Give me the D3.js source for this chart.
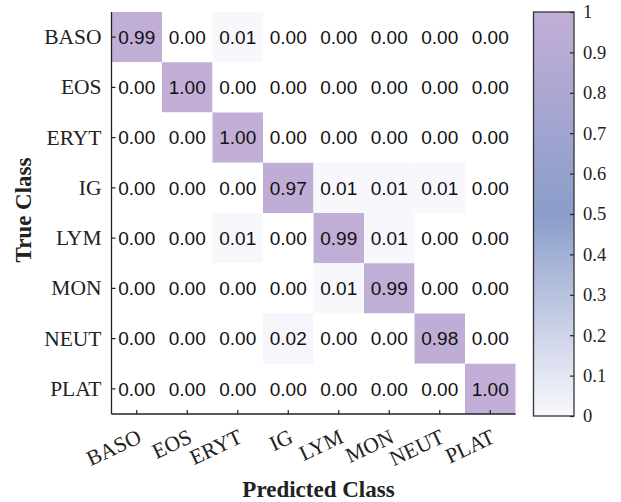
<!DOCTYPE html>
<html>
<head>
<meta charset="utf-8">
<script src="https://cdn.jsdelivr.net/npm/d3@7"></script>
<style>
  body { margin: 0; background: #fff; }
</style>
</head>
<body>
<div id="chart"></div>
<script>
// class labels
var classes = ['BASO', 'EOS', 'ERYT', 'IG', 'LYM', 'MON', 'NEUT', 'PLAT']
// rows = true class, columns = predicted class
var matrix = [
  [0.99, 0.00, 0.01, 0.00, 0.00, 0.00, 0.00, 0.00],
  [0.00, 1.00, 0.00, 0.00, 0.00, 0.00, 0.00, 0.00],
  [0.00, 0.00, 1.00, 0.00, 0.00, 0.00, 0.00, 0.00],
  [0.00, 0.00, 0.00, 0.97, 0.01, 0.01, 0.01, 0.00],
  [0.00, 0.00, 0.01, 0.00, 0.99, 0.01, 0.00, 0.00],
  [0.00, 0.00, 0.00, 0.00, 0.01, 0.99, 0.00, 0.00],
  [0.00, 0.00, 0.00, 0.02, 0.00, 0.00, 0.98, 0.00],
  [0.00, 0.00, 0.00, 0.00, 0.00, 0.00, 0.00, 1.00]
]
var colorTicks = [0, 0.1, 0.2, 0.3, 0.4, 0.5, 0.6, 0.7, 0.8, 0.9, 1]

var W = 621
var H = 502
var plot = { left: 111.5, top: 12, right: 515.5, bottom: 414 }
var bar = { left: 533.5, right: 574, top: 12, bottom: 416 }
var serif = '"Liberation Serif", "Times New Roman", serif'
var sans = '"Liberation Sans", Arial, Helvetica, sans-serif'

var svg = d3.select('#chart').append('svg')
  .attr('width', W)
  .attr('height', H)

var x = d3.scaleBand().domain(classes).range([plot.left, plot.right])
var y = d3.scaleBand().domain(classes).range([plot.top, plot.bottom])

var color = d3.scaleLinear()
  .domain([0, 0.25, 0.5, 0.75, 1])
  .range(['#f9f9fd', '#c3cbe3', '#8a9dca', '#a6a6d1', '#c2aed6'])
  .clamp(true)

var cells = []
matrix.forEach((row, i) => {
  row.forEach((v, j) => {
    cells.push({ t: classes[i], p: classes[j], v: v })
  })
})

// cells
svg.append('g')
  .selectAll('rect')
  .data(cells)
  .enter()
  .append('rect')
  .attr('x', d => x(d.p))
  .attr('y', d => y(d.t))
  .attr('width', x.bandwidth())
  .attr('height', y.bandwidth())
  .attr('fill', d => d.v > 0 ? color(d.v) : '#ffffff')

svg.append('g')
  .selectAll('text')
  .data(cells)
  .enter()
  .append('text')
  .attr('x', d => x(d.p) + x.bandwidth() / 2)
  .attr('y', d => y(d.t) + y.bandwidth() / 2)
  .attr('dy', '0.36em')
  .attr('text-anchor', 'middle')
  .attr('font-family', sans)
  .attr('font-size', 19)
  .attr('fill', '#111')
  .text(d => d.v.toFixed(2))

// axes
var yAxis = d3.axisLeft(y).tickSize(-4).tickPadding(10)
var gy = svg.append('g')
  .attr('transform', `translate(${plot.left},0)`)
  .call(yAxis)
gy.select('.domain').attr('d', `M0,${plot.top}V${plot.bottom}`).attr('stroke', '#222').attr('stroke-width', 1.3)
gy.selectAll('.tick line').attr('stroke', '#222').attr('stroke-width', 1.2)
gy.selectAll('.tick text')
  .attr('font-family', serif)
  .attr('font-size', 21.5)
  .attr('fill', '#222')

var xAxis = d3.axisBottom(x).tickSize(-4)
var gx = svg.append('g')
  .attr('transform', `translate(0,${plot.bottom})`)
  .call(xAxis)
gx.select('.domain').attr('d', `M${plot.left},0H${plot.right}`).attr('stroke', '#222').attr('stroke-width', 1.3)
gx.selectAll('.tick line').attr('stroke', '#222').attr('stroke-width', 1.2)
gx.selectAll('.tick text')
  .attr('font-family', serif)
  .attr('font-size', 21.5)
  .attr('fill', '#222')
  .attr('text-anchor', 'end')
  .attr('y', 0)
  .attr('dy', 0)
  .attr('transform', 'translate(6,28) rotate(-25)')

// axis titles
svg.append('text')
  .attr('x', (plot.left + plot.right) / 2 + 5)
  .attr('y', 497)
  .attr('text-anchor', 'middle')
  .attr('font-family', serif)
  .attr('font-weight', 'bold')
  .attr('font-size', 23)
  .attr('fill', '#222')
  .text('Predicted Class')

svg.append('text')
  .attr('transform', `translate(31,${(plot.top + plot.bottom) / 2 - 3}) rotate(-90)`)
  .attr('text-anchor', 'middle')
  .attr('font-family', serif)
  .attr('font-weight', 'bold')
  .attr('font-size', 23)
  .attr('fill', '#222')
  .text('True Class')

// colorbar
var defs = svg.append('defs')
var grad = defs.append('linearGradient')
  .attr('id', 'cbar')
  .attr('x1', 0).attr('y1', 1).attr('x2', 0).attr('y2', 0)
d3.range(0, 1.0001, 0.05).forEach(t => {
  grad.append('stop').attr('offset', t).attr('stop-color', color(t))
})

var cy = d3.scaleLinear().domain([0, 1]).range([bar.bottom, bar.top])

svg.append('rect')
  .attr('x', bar.left)
  .attr('y', bar.top)
  .attr('width', bar.right - bar.left)
  .attr('height', bar.bottom - bar.top)
  .attr('fill', 'url(#cbar)')
  .attr('stroke', '#333')
  .attr('stroke-width', 1.3)

var gc = svg.append('g')
  .attr('transform', `translate(${bar.right},0)`)
  .call(d3.axisRight(cy).tickValues(colorTicks).tickFormat(d3.format('')).tickSize(-4).tickPadding(9))
gc.select('.domain').remove()
gc.selectAll('.tick line').attr('stroke', '#222').attr('stroke-width', 1.2)
gc.selectAll('.tick text')
  .attr('font-family', serif)
  .attr('font-size', 18.5)
  .attr('fill', '#222')
</script>
</body>
</html>
